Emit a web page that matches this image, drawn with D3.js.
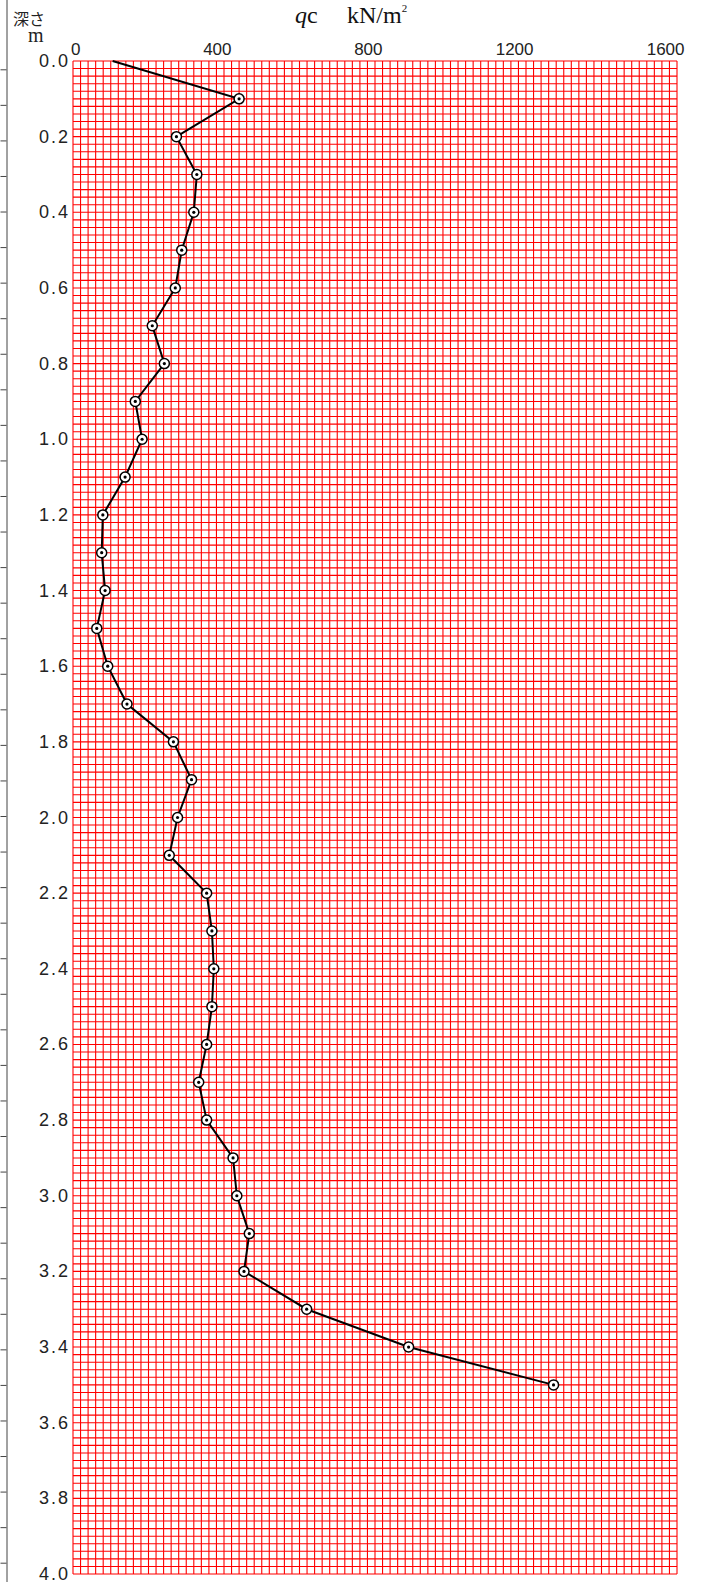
<!DOCTYPE html>
<html>
<head>
<meta charset="utf-8">
<script src="https://cdn.jsdelivr.net/npm/d3@7"></script>
<style>
  body { margin: 0; background: #fff; }
  .tick text { font-family: "Liberation Sans", Arial, sans-serif; }
</style>
</head>
<body>
<div id="chart"></div>
<script>
// depth (m) and cone resistance qc (kN/m2)
const depths = [0.0, 0.1, 0.2, 0.3, 0.4, 0.5, 0.6, 0.7, 0.8, 0.9,
                1.0, 1.1, 1.2, 1.3, 1.4, 1.5, 1.6, 1.7, 1.8, 1.9,
                2.0, 2.1, 2.2, 2.3, 2.4, 2.5, 2.6, 2.7, 2.8, 2.9,
                3.0, 3.1, 3.2, 3.3, 3.4, 3.5];
const qc = [105, 440, 274, 328, 320, 288, 271, 210, 242, 165,
            183, 138, 79, 76, 85, 63, 92, 143, 266, 314,
            277, 255, 354, 368, 373, 368, 354, 333, 354, 424,
            434, 467, 453, 619, 889, 1273];
const xTicks = [0, 400, 800, 1200, 1600];
const yTicks = [0.0, 0.2, 0.4, 0.6, 0.8, 1.0, 1.2, 1.4, 1.6, 1.8, 2.0,
                2.2, 2.4, 2.6, 2.8, 3.0, 3.2, 3.4, 3.6, 3.8, 4.0];

const width = 702, height = 1582;
const plotLeft = 73, plotRight = 677, plotTop = 61, plotBottom = 1574;

const svg = d3.select("#chart").append("svg")
  .attr("width", width)
  .attr("height", height);

const x = d3.scaleLinear().domain([0, 1600]).range([plotLeft, plotRight]);
const y = d3.scaleLinear().domain([0, 4]).range([plotTop, plotBottom]);

/* grid */
const grid = svg.append("g").attr("stroke", "#ff0000").attr("stroke-width", 1.1);
grid.selectAll(".vline")
  .data(d3.range(0, 1601, 20)).enter()
  .append("line")
  .attr("x1", d => x(d)).attr("x2", d => x(d))
  .attr("y1", plotTop).attr("y2", plotBottom);
grid.selectAll(".hline")
  .data(d3.range(0, 201).map(i => i * 0.02)).enter()
  .append("line")
  .attr("y1", d => y(d)).attr("y2", d => y(d))
  .attr("x1", plotLeft).attr("x2", plotRight);

/* tick labels */
svg.append("g")
  .attr("transform", `translate(0, 55)`)
  .call(d3.axisTop(x).tickValues(xTicks).tickSize(0).tickPadding(0).tickFormat(d3.format("d")))
  .call(g => g.select(".domain").remove())
  .selectAll("text")
  .attr("dy", 0)
  .attr("text-anchor", "end")
  .attr("dx", 7)
  .attr("font-size", 17)
  .attr("fill", "#222");

svg.append("g")
  .attr("transform", `translate(70, 0)`)
  .call(d3.axisLeft(y).tickValues(yTicks).tickSize(0).tickPadding(0).tickFormat(d3.format(".1f")))
  .call(g => g.select(".domain").remove())
  .selectAll("text")
  .attr("dy", 5.5)
  .attr("font-size", 18)
  .attr("letter-spacing", 2)
  .attr("fill", "#222");

/* cut-off axis on the far left */
const yEdge = d3.scaleLinear().domain([0, 42]).range([69.3, 1562.7]);
svg.append("g")
  .attr("transform", "translate(6.5, 0)")
  .call(d3.axisLeft(yEdge).tickValues(d3.range(0, 43)).tickSize(6).tickFormat(""))
  .call(g => g.select(".domain").attr("d", `M0.5,0V${height}`))
  .attr("color", "#444");

/* titles */
svg.append("text")
  .attr("x", 13).attr("y", 25)
  .attr("font-family", "'Noto Sans CJK JP', sans-serif")
  .attr("font-size", 16)
  .attr("fill", "#222")
  .text("深さ");
svg.append("text")
  .attr("x", 28).attr("y", 42)
  .attr("font-family", "'Liberation Serif', 'DejaVu Serif', serif")
  .attr("font-size", 20)
  .attr("fill", "#222")
  .text("m");

const title = svg.append("text")
  .attr("x", 295).attr("y", 23)
  .attr("font-family", "'Liberation Serif', 'DejaVu Serif', serif")
  .attr("font-size", 24)
  .attr("fill", "#111");
title.append("tspan").attr("font-style", "italic").text("q");
title.append("tspan").text("c");
title.append("tspan").attr("x", 347).text("kN/m");
title.append("tspan").attr("font-size", 11).attr("dy", -11).text("2");

/* data line */
const pts = depths.map((d, i) => ({depth: d, value: qc[i]}));
const line = d3.line()
  .x(d => x(d.value))
  .y(d => y(d.depth));

svg.append("path")
  .datum(pts)
  .attr("d", line)
  .attr("fill", "none")
  .attr("stroke", "#000")
  .attr("stroke-width", 2);

/* markers (none at the surface point) */
const marks = svg.append("g").selectAll("g")
  .data(pts.slice(1)).enter()
  .append("g")
  .attr("transform", d => `translate(${x(d.value)}, ${y(d.depth)})`);
marks.append("circle")
  .attr("r", 5)
  .attr("fill", "#fff")
  .attr("stroke", "#000")
  .attr("stroke-width", 1.5);
marks.append("circle")
  .attr("r", 1.6)
  .attr("fill", "#000");
</script>
</body>
</html>
